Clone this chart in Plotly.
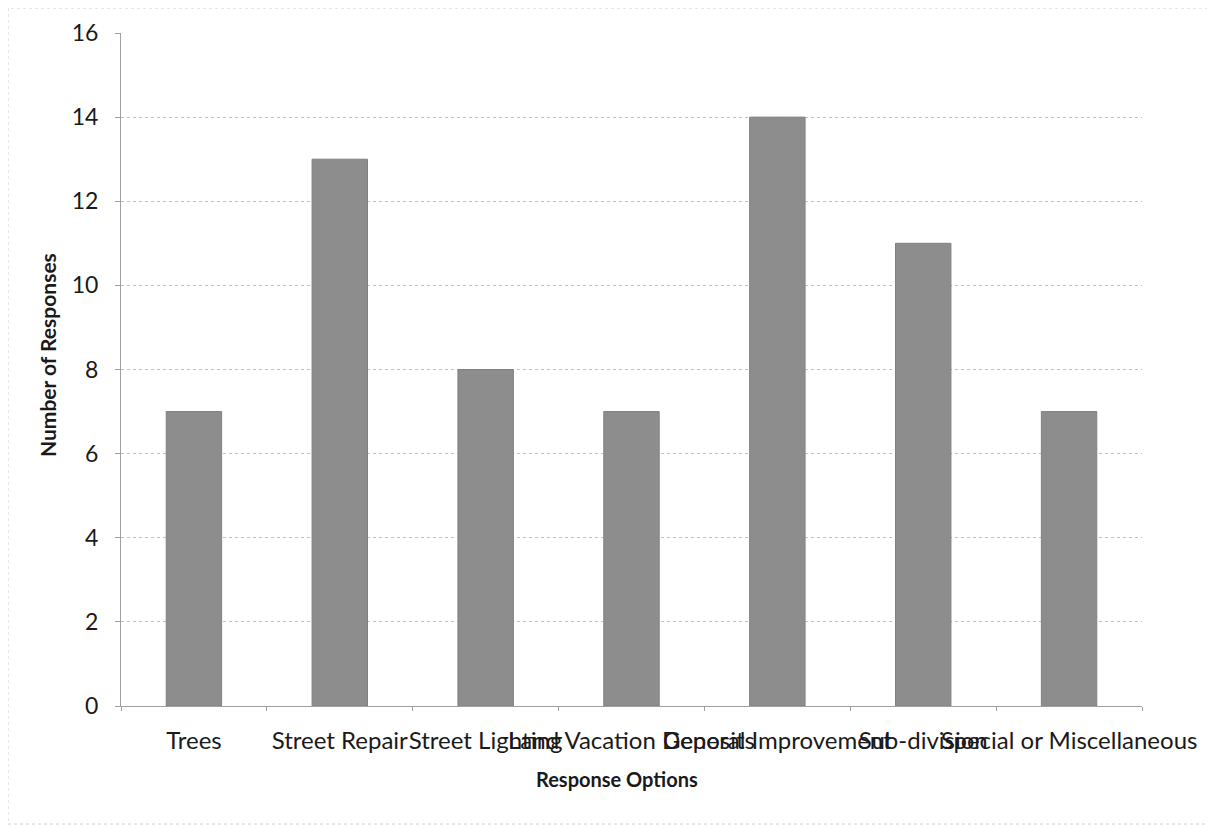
import plotly.graph_objects as go

categories = ["Trees", "Street Repair", "Street Lighting", "Land Vacation Deposits",
              "General Improvement", "Sub-division", "Special or Miscellaneous"]
responses = [7, 13, 8, 7, 14, 11, 7]
y_ticks = [0, 2, 4, 6, 8, 10, 12, 14, 16]

font_family = "Lato, Open Sans, sans-serif"
# page body has an 8px margin; figure sized/offset to compensate
OFF = 8
W, H = 1215 - OFF, 825 - OFF
L, T = 121 - OFF, 33 - OFF
pw, ph = 1021, 673
R, B = W - L - pw, H - T - ph


def px_x(x):  # screenshot px -> paper x
    return (x - OFF - L) / pw


def px_y(y):  # screenshot px -> paper y
    return 1 - (y - OFF - T) / ph


fig = go.Figure()
fig.add_trace(go.Bar(
    x=categories, y=responses,
    marker=dict(color="#8d8d8d", line=dict(color="#808080", width=1)),
))

fig.update_layout(
    width=W, height=H,
    margin=dict(l=L, r=R, t=T, b=B),
    paper_bgcolor="white", plot_bgcolor="white",
    bargap=0.62,
    showlegend=False,
    font=dict(family=font_family, size=24, color="#1a1a1a"),
    shapes=[dict(type="rect", xref="paper", yref="paper",
                 x0=-L / pw, x1=1 + (R - 1) / pw,
                 y0=-(B - 1) / ph, y1=1 + T / ph,
                 line=dict(color="#d0d0d0", width=1, dash="dot"))],
    annotations=[
        dict(text="<b>Response Options</b>", xref="paper", yref="paper",
             x=px_x(617), y=px_y(779),
             xanchor="center", yanchor="middle", showarrow=False,
             font=dict(size=20)),
        dict(text="<b>Number of Responses</b>", xref="paper", yref="paper",
             x=px_x(47), y=px_y(355), textangle=-90,
             xanchor="center", yanchor="middle", showarrow=False,
             font=dict(size=21)),
    ],
)
fig.update_xaxes(
    automargin=False,
    tickangle=0,
    showline=True, linecolor="#a0a0a0", linewidth=1,
    ticks="outside", tickson="boundaries", ticklen=4, tickcolor="#a0a0a0",
    ticklabelstandoff=13,
    tickfont=dict(size=24),
)
fig.update_yaxes(
    automargin=False,
    range=[0, 16], tickvals=y_ticks,
    showline=True, linecolor="#a0a0a0", linewidth=1,
    ticks="outside", ticklen=5, tickcolor="#a0a0a0",
    ticklabelstandoff=12,
    showgrid=True, gridcolor="#c0c0c0", griddash="dot", gridwidth=1,
    tickfont=dict(size=23),
    zeroline=False,
)

fig.write_html("out.html")
